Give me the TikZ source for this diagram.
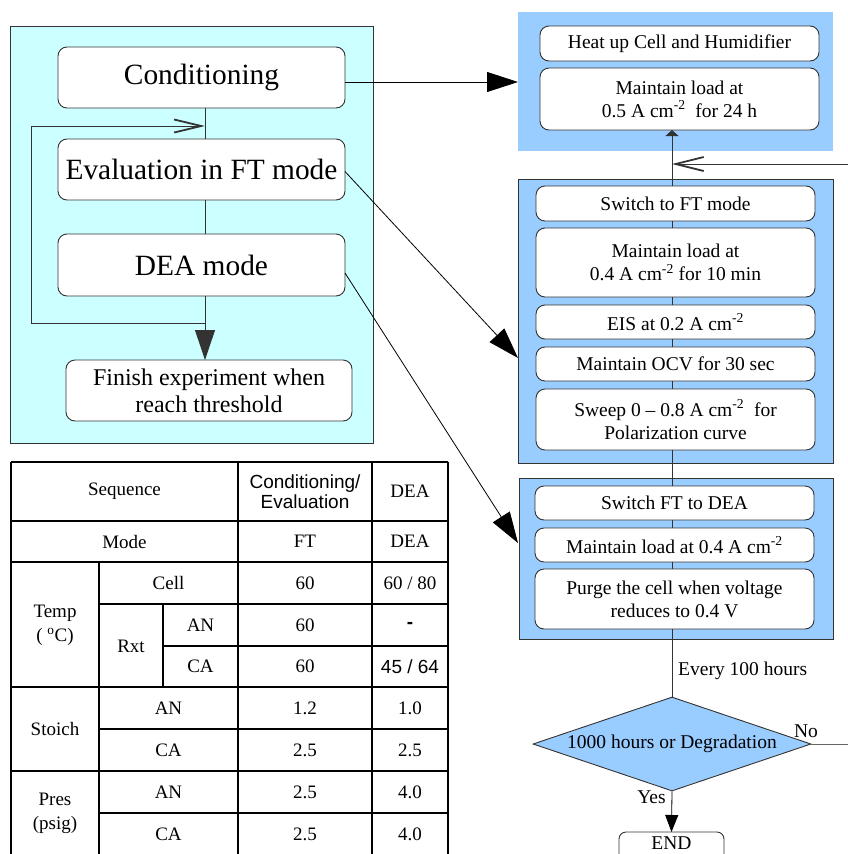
\documentclass[tikz,border=0pt]{standalone}
\usepackage{fontspec}
\setmainfont{Liberation Serif}
\setsansfont{Liberation Sans}
\usetikzlibrary{arrows.meta,shapes.geometric,calc}
\definecolor{cyanbg}{HTML}{CCFFFF}
\definecolor{bluebg}{HTML}{99CCFF}
\definecolor{edgec}{HTML}{333333}
\newcommand\fbig{\fontsize{29.4}{33}\selectfont}
\newcommand\fmid{\fontsize{24}{27}\selectfont}
\newcommand\fright{\fontsize{19.5}{23}\selectfont}
\newcommand\ftab{\fontsize{19}{22}\selectfont}
\newcommand\ftabb{\fontsize{19}{24}\selectfont}
\newcommand\sqm{\textsuperscript{-2}}
\begin{document}
\begin{tikzpicture}[x=1pt,y=-1pt,
  panel/.style={draw=edgec, line width=0.9pt, inner sep=0pt, outer sep=0pt},
  box/.style={draw=edgec, fill=white, rounded corners=9pt, line width=0.9pt, inner sep=0pt, outer sep=0pt, align=center},
  gline/.style={draw=edgec, line width=0.9pt},
  kline/.style={draw=black, line width=0.8pt},
  bigtip/.style={-{Triangle[length=30pt,width=20pt]}},
  opentip/.style={-{Straight Barb[length=27pt,width=13pt,line width=1.8pt]}},
  tline/.style={draw=black, line width=1.2pt},
  tt/.style={font=\ftab, inner sep=0pt, align=center},
  ts/.style={font=\ftab\sffamily, inner sep=0pt, align=center}
]
\useasboundingbox (0,0) rectangle (848,854);
\fill[white] (0,0) rectangle (848,854);

% ---------------- left panel ----------------
\node[panel, fill=cyanbg, minimum width=363pt, minimum height=417pt] (lp) at (191.5,234.5) {};
\node[box, font=\fbig, minimum width=287pt, minimum height=61pt] (cond) at (201.5,77.5) {Conditioning};
\node[box, font=\fbig, minimum width=287pt, minimum height=61pt] (eval) at (201.5,169.5) {Evaluation in FT mode};
\node[box, font=\fbig, minimum width=287pt, minimum height=62pt] (dea) at (201.5,265) {DEA mode};
\node[box, font=\fmid, minimum width=286pt, minimum height=61pt] (fin) at (209,390.5) {Finish experiment when\\reach threshold};

\coordinate (ls) at (205,0);
\coordinate (lt) at (31,126);
\coordinate (lb) at (31,323);
\draw[gline] (cond.south -| ls) -- (eval.north -| ls);
\draw[gline] (eval.south -| ls) -- (dea.north -| ls);
\draw[gline] (dea.south -| ls) -- (lb -| ls);
\draw[gline, bigtip] (lb -| ls) -- (fin.north -| ls);
\draw[gline, opentip] (lb -| ls) -- (lb) -- (lt) -- (lt -| ls);

% ---------------- right panels ----------------
\node[panel, draw=none, fill=bluebg, minimum width=315pt, minimum height=139pt] (p1) at (675.5,81.5) {};
\node[panel, fill=bluebg, minimum width=315pt, minimum height=284pt] (p2) at (675.5,321) {};
\node[panel, fill=bluebg, minimum width=314pt, minimum height=161pt] (p3) at (676,558.5) {};

\node[box, font=\fright, minimum width=279pt, minimum height=35pt] (heat) at (679.5,43.5) {Heat up Cell and Humidifier};
\node[box, font=\fright, minimum width=279pt, minimum height=62pt] (mA) at (679.5,99) {Maintain load at\\0.5 A cm\sqm\ \ for 24 h};

\node[box, font=\fright, minimum width=279pt, minimum height=35pt] (sw1) at (675.5,203.5) {Switch to FT mode};
\node[box, font=\fright, minimum width=279pt, minimum height=69pt] (mB) at (675.5,262.5) {Maintain load at\\0.4 A cm\sqm\ for 10 min};
\node[box, font=\fright, minimum width=279pt, minimum height=34pt] (eis) at (675.5,322) {EIS at 0.2 A cm\sqm};
\node[box, font=\fright, minimum width=279pt, minimum height=34pt] (ocv) at (675.5,364) {Maintain OCV for 30 sec};
\node[box, font=\fright, minimum width=279pt, minimum height=61pt] (swp) at (675.5,419.5) {Sweep 0 -- 0.8 A cm\sqm\ \ for\\Polarization curve};

\node[box, font=\fright, minimum width=279pt, minimum height=34pt] (sw2) at (674.5,503) {Switch FT to DEA};
\node[box, font=\fright, minimum width=279pt, minimum height=34pt] (mC) at (674.5,545) {Maintain load at 0.4 A cm\sqm};
\node[box, font=\fright, minimum width=279pt, minimum height=60pt] (prg) at (674.5,599) {Purge the cell when voltage\\reduces to 0.4 V};

\node[diamond, draw=edgec, fill=bluebg, line width=0.9pt, inner sep=0pt, aspect=2.96,
      minimum width=278pt, minimum height=94pt, font=\fright] (dia) at (672,744) {1000 hours or Degradation};
\node[box, font=\fright, rounded corners=7pt, minimum width=105pt, minimum height=40pt] (endn) at (671.5,852) {};
\node[font=\fright, inner sep=0pt] (endt) at (671.5,843.5) {END};

\coordinate (rs) at (672,0);
\draw[gline, -{Triangle[length=6pt,width=13pt]}] (sw1.north -| rs) -- (mA.south -| rs);
\draw[gline] (sw1.south -| rs) -- (mB.north -| rs);
\draw[gline] (mB.south -| rs) -- (eis.north -| rs);
\draw[gline] (eis.south -| rs) -- (ocv.north -| rs);
\draw[gline] (ocv.south -| rs) -- (swp.north -| rs);
\draw[gline] (swp.south -| rs) -- (sw2.north -| rs);
\draw[gline] (sw2.south -| rs) -- (mC.north -| rs);
\draw[gline] (mC.south -| rs) -- (prg.north -| rs);
\draw[gline] (prg.south -| rs) -- (dia.north);
\node[font=\fright, anchor=west, inner sep=0pt] (ev100) at (678,671) {Every 100 hours};

\coordinate (fbR) at (848,164);
\draw[gline, -{Straight Barb[length=28pt,width=14pt,line width=1.8pt]}] (fbR) -- (fbR -| rs);
\coordinate (noR) at (848,744);
\draw[gline, draw=gray!80!black] (dia.east) -- (noR);
\node[font=\fright, inner sep=0pt] (nolab) at (806,731) {No};
\draw[kline, -{Triangle[length=17pt,width=13pt]}] (dia.south) -- (endn.north);
\node[font=\fright, inner sep=0pt] (yeslab) at (651.5,797) {Yes};

% cross arrows
\draw[kline, -{Triangle[length=31pt,width=20pt]}] ($(cond.east)+(0,4.5)$) -- ($(p1.west)+(0,0.5)$);
\draw[kline, -{Triangle[length=31pt,width=20pt]}] ($(eval.east)+(0,2)$) -- ($(p2.west)+(0,37)$);
\draw[kline, -{Triangle[length=31pt,width=20pt]}] ($(dea.east)+(0,8)$) -- ($(p3.west)+(-1,-15.5)$);

% ---------------- table ----------------
\draw[tline] (11,462) -- (448,462);
\draw[tline] (11,521) -- (448,521);
\draw[tline] (11,562) -- (448,562);
\draw[tline] (99,604) -- (448,604);
\draw[tline] (163,646) -- (448,646);
\draw[tline] (11,687) -- (448,687);
\draw[tline] (99,729) -- (448,729);
\draw[tline] (11,771) -- (448,771);
\draw[tline] (99,813) -- (448,813);
\draw[tline] (11,856) -- (448,856);
\draw[tline] (11,462) -- (11,856);
\draw[tline] (99,562) -- (99,856);
\draw[tline] (163,604) -- (163,687);
\draw[tline] (238,462) -- (238,856);
\draw[tline] (372,462) -- (372,856);
\draw[tline] (448,462) -- (448,856);

\node[tt] (t1) at (124.5,491.5) {Sequence};
\node[ts, font=\ftab\sffamily\linespread{0.93}\selectfont] (t2) at (305,491.5) {Conditioning/\\Evaluation};
\node[tt] (t3) at (410,491.5) {DEA};
\node[tt] (t4) at (124.5,541.5) {Mode};
\node[tt] (t5) at (305,541.5) {FT};
\node[tt] (t6) at (410,541.5) {DEA};
\node[tt, font=\ftabb] (t7) at (55,625) {Temp\\( \textsuperscript{o}C)};
\node[tt] (t8) at (168.5,583) {Cell};
\node[tt] (t9) at (305,583) {60};
\node[tt] (t10) at (410,583) {60 / 80};
\node[tt] (t11) at (131,646) {Rxt};
\node[tt] (t12) at (200.5,625) {AN};
\node[tt] (t13) at (305,625) {60};
\node[ts] (t14) at (410,625) {\textbf{-}};
\node[tt] (t15) at (200.5,666.5) {CA};
\node[tt] (t16) at (305,666.5) {60};
\node[ts] (t17) at (410,666.5) {45 / 64};
\node[tt] (t18) at (55,729) {Stoich};
\node[tt] (t19) at (168.5,708) {AN};
\node[tt] (t20) at (305,708) {1.2};
\node[tt] (t21) at (410,708) {1.0};
\node[tt] (t22) at (168.5,750) {CA};
\node[tt] (t23) at (305,750) {2.5};
\node[tt] (t24) at (410,750) {2.5};
\node[tt, font=\ftabb] (t25) at (55,813) {Pres\\(psig)};
\node[tt] (t26) at (168.5,792) {AN};
\node[tt] (t27) at (305,792) {2.5};
\node[tt] (t28) at (410,792) {4.0};
\node[tt] (t29) at (168.5,834) {CA};
\node[tt] (t30) at (305,834) {2.5};
\node[tt] (t31) at (410,834) {4.0};
\end{tikzpicture}
\end{document}
